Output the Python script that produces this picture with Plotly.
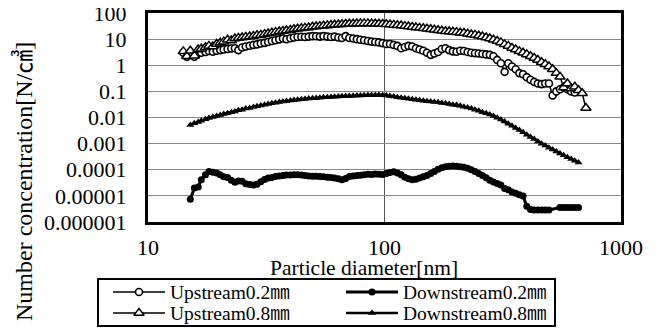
import plotly.graph_objects as go

# Particle diameters (SMPS channel midpoints, nm)
diameter = [14.1, 14.6, 15.1, 15.7, 16.3, 16.8, 17.5, 18.1, 18.8, 19.5,
            20.2, 20.9, 21.7, 22.5, 23.3, 24.1, 25.0, 25.9, 26.9, 27.9,
            28.9, 30.0, 31.1, 32.2, 33.4, 34.6, 35.9, 37.2, 38.5, 40.0,
            41.4, 42.9, 44.5, 46.1, 47.8, 49.6, 51.4, 53.3, 55.2, 57.3,
            59.4, 61.5, 63.8, 66.1, 68.5, 71.0, 73.7, 76.4, 79.1, 82.0,
            85.1, 88.2, 91.4, 94.7, 98.2, 101.8, 105.5, 109.4, 113.4, 117.6,
            121.9, 126.3, 131.0, 135.8, 140.7, 145.9, 151.2, 156.8, 162.5, 168.5,
            174.7, 181.1, 187.7, 194.6, 201.7, 209.1, 216.7, 224.7, 232.9, 241.4,
            250.3, 259.5, 269.0, 278.8, 289.0, 299.6, 310.6, 322.0, 333.8, 346.0,
            358.7, 371.8, 385.4, 399.5, 414.2, 429.4, 445.1, 461.4, 478.3, 495.8,
            514.0, 532.8, 552.3, 572.5, 593.5, 615.3, 637.8, 661.2, 685.4, 710.5,
            736.5]

# Upstream 0.2mm (channels 0..106)
upstream_02 = [3.0, 2.1, 2.6, 2.1, 2.8, 3.0, 3.2, 3.5, 3.3, 3.6,
               3.8, 4.0, 4.2, 4.4, 4.5, 3.8, 4.8, 5.2, 5.6, 6.0,
               6.3, 6.8, 7.2, 7.8, 8.5, 9.0, 9.8, 10.5, 10.0, 10.8,
               11.5, 12.0, 12.3, 12.0, 12.5, 13.0, 12.8, 12.5, 13.0, 12.5,
               12.0, 12.5, 11.5, 11.0, 13.0, 11.0, 10.5, 10.0, 9.5, 9.0,
               8.5, 8.0, 7.8, 7.5, 7.0, 6.5, 6.5, 6.0, 5.5, 4.5,
               5.0, 5.5, 5.2, 4.5, 4.0, 3.6, 3.0, 2.5, 2.8, 3.2,
               4.2, 4.5, 3.8, 3.4, 3.3, 3.6, 3.5, 3.2, 3.0, 2.9,
               2.8, 2.7, 2.6, 2.5, 2.2, 1.6, 1.2, 0.56, 1.2, 0.9,
               0.7, 0.5, 0.45, 0.35, 0.28, 0.23, 0.2, 0.19, 0.2, 0.2,
               0.07, 0.1, 0.12, 0.14, 0.12, 0.1, 0.09]

# Downstream 0.2mm (channels 2..107)
downstream_02 = [7.4e-6, 2.0e-5, 2.2e-5, 4.1e-5, 6.5e-5, 8.5e-5, 8.0e-5, 7.5e-5,
                 6.5e-5, 5.4e-5, 5.0e-5, 4.0e-5, 3.3e-5, 3.7e-5, 3.6e-5, 2.9e-5, 2.7e-5, 2.6e-5,
                 2.8e-5, 3.5e-5, 4.2e-5, 4.8e-5, 5.1e-5, 5.5e-5, 5.8e-5, 6.0e-5, 6.3e-5, 6.3e-5,
                 6.5e-5, 6.4e-5, 6.3e-5, 6.0e-5, 5.8e-5, 5.7e-5, 5.6e-5, 5.5e-5, 5.4e-5, 5.2e-5,
                 5.1e-5, 4.8e-5, 4.5e-5, 4.1e-5, 4.6e-5, 5.5e-5, 5.8e-5, 6.0e-5, 6.2e-5, 6.5e-5,
                 6.8e-5, 6.6e-5, 6.9e-5, 6.7e-5, 6.6e-5, 7.2e-5, 7.8e-5, 8.3e-5, 7.5e-5, 6.5e-5,
                 5.2e-5, 4.5e-5, 4.1e-5, 4.3e-5, 4.8e-5, 5.4e-5, 6.0e-5, 7.2e-5, 8.5e-5, 1.05e-4,
                 1.2e-4, 1.3e-4, 1.35e-4, 1.4e-4, 1.35e-4, 1.3e-4, 1.25e-4, 1.15e-4, 1.0e-4, 8.5e-5,
                 7.2e-5, 6.0e-5, 4.9e-5, 4.0e-5, 3.4e-5, 3.0e-5, 2.6e-5, 1.9e-5, 1.7e-5, 1.4e-5,
                 1.27e-5, 1.1e-5, 1.0e-5, 4.0e-6, 3.0e-6, 2.9e-6, 2.9e-6, 2.9e-6, 2.9e-6, 2.9e-6,
                 None, None, 3.6e-6, 3.6e-6, 3.6e-6, 3.6e-6, 3.6e-6, 3.6e-6]

# Upstream 0.8mm (channels 0..109)
upstream_08 = [3.4, 2.2, 3.6, 2.3, 4.0, 4.3, 4.9, 5.5, 5.2, 6.5,
               7.2, 8.0, 9.5, 8.8, 10.5, 11.0, 11.5, 12.0, 12.5, 13.2,
               14.0, 14.5, 15.5, 16.5, 17.5, 18.5, 19.5, 20.5, 21.5, 22.5,
               24.0, 25.0, 26.0, 27.0, 28.0, 29.5, 30.5, 31.5, 32.5, 33.5,
               34.5, 35.5, 36.5, 37.0, 38.0, 38.5, 39.0, 39.5, 40.0, 40.0,
               40.0, 39.5, 39.0, 38.5, 38.0, 37.0, 36.0, 35.0, 34.0, 33.0,
               31.5, 30.5, 29.0, 28.0, 27.0, 26.0, 25.0, 24.0, 23.0, 22.0,
               21.0, 20.0, 19.5, 19.0, 18.5, 17.5, 17.0, 16.0, 15.0, 14.5,
               13.5, 12.5, 11.5, 10.5, 9.5, 8.5, 7.5, 6.3, 5.5, 4.6,
               4.0, 3.4, 3.0, 2.6, 2.2, 1.9, 1.6, 1.3, 1.1, 0.9,
               0.7, 0.5, 0.36, 0.14, 0.2, 0.13, 0.15, 0.11, 0.085, 0.023]

# Downstream 0.8mm (channels 2..107)
downstream_08 = [0.0052, 0.006, 0.0068, 0.0075, 0.0085, 0.0095, 0.0105, 0.0115,
                 0.0125, 0.0135, 0.0145, 0.016, 0.017, 0.019, 0.02, 0.022, 0.023, 0.025,
                 0.027, 0.029, 0.031, 0.033, 0.035, 0.037, 0.039, 0.041, 0.043, 0.045,
                 0.047, 0.048, 0.05, 0.051, 0.053, 0.054, 0.056, 0.057, 0.059, 0.06,
                 0.061, 0.062, 0.064, 0.065, 0.066, 0.067, 0.068, 0.069, 0.07, 0.071,
                 0.072, 0.072, 0.072, 0.072, 0.071, 0.07, 0.067, 0.063, 0.06, 0.057,
                 0.055, 0.052, 0.05, 0.048, 0.046, 0.044, 0.042, 0.041, 0.039, 0.038,
                 0.036, 0.035, 0.033, 0.031, 0.03, 0.028, 0.026, 0.024, 0.022, 0.02,
                 0.018, 0.016, 0.0145, 0.013, 0.0115, 0.0098, 0.0083, 0.007, 0.0058, 0.0048,
                 0.004, 0.0033, 0.0027, 0.0022, 0.0018, 0.0015, 0.0012, 0.001, 0.00085, 0.0007,
                 0.0006, 0.0005, 0.00042, 0.00036, 0.0003, 0.00026, 0.00022, 0.00019]

series_names = ["Upstream0.2㎜", "Downstream0.2㎜", "Upstream0.8㎜", "Downstream0.8㎜"]

y_tickvals = [1e2, 1e1, 1, 1e-1, 1e-2, 1e-3, 1e-4, 1e-5, 1e-6]
y_ticktext = ["100", "10", "1", "0.1", "0.01", "0.001", "0.0001", "0.00001", "0.000001"]
x_tickvals = [10, 100, 1000]
x_ticktext = ["10", "100", "1000"]

FONT = "'Times New Roman', 'Liberation Serif', 'Noto Sans CJK JP', serif"
# The page body has a default 8px margin; the figure is sized to fill the
# remaining window and all layout pixel positions are given in window pixels.
OFF = 8
W, H = 659 - OFF, 329 - OFF


def px(x):
    return (x - OFF) / W


def py(y):
    return 1 - (y - OFF) / H


# plot area in window pixels
PL, PR, PT, PB = 148, 621, 13, 222
# legend box in window pixels
LL, LR, LT, LB = 98, 555, 279, 326

styles = [
    dict(line=dict(color="black", width=1.5),
         marker=dict(symbol="circle", size=7, color="white", line=dict(color="black", width=1.6))),
    dict(line=dict(color="black", width=3),
         marker=dict(symbol="circle", size=7, color="black", line=dict(color="black", width=0))),
    dict(line=dict(color="black", width=1.5),
         marker=dict(symbol="triangle-up", size=9, color="white", line=dict(color="black", width=1.5))),
    dict(line=dict(color="black", width=2.5),
         marker=dict(symbol="triangle-up", size=7, color="black", line=dict(color="black", width=0))),
]
xs = [diameter[0:len(upstream_02)], diameter[2:2 + len(downstream_02)],
      diameter[0:len(upstream_08)], diameter[2:2 + len(downstream_08)]]
ys = [upstream_02, downstream_02, upstream_08, downstream_08]

fig = go.Figure()
for name, x, y, st in zip(series_names, xs, ys, styles):
    fig.add_trace(go.Scatter(x=x, y=y, name=name, mode="lines+markers",
                             connectgaps=True, line=st["line"], marker=st["marker"],
                             xaxis="x", yaxis="y", showlegend=False))

# Legend (drawn on an auxiliary axis pair whose units are window pixels)
leg_line_x0 = [113, 346]
leg_line_x1 = [165, 398]
leg_text_x = [168, 401]
leg_row_y = [292, 313]
annotations = []
for i, (name, st) in enumerate(zip(series_names, styles)):
    col, row = i % 2, i // 2
    x0, x1 = leg_line_x0[col], leg_line_x1[col]
    yy = leg_row_y[row]
    fig.add_trace(go.Scatter(x=[x0, x1], y=[yy, yy], mode="lines", line=st["line"],
                             xaxis="x2", yaxis="y2", showlegend=False, hoverinfo="skip"))
    fig.add_trace(go.Scatter(x=[(x0 + x1) / 2], y=[yy], mode="markers", marker=st["marker"],
                             xaxis="x2", yaxis="y2", showlegend=False, hoverinfo="skip"))
    annotations.append(dict(text=name, xref="x2", yref="y2", x=leg_text_x[col], y=yy,
                            xanchor="left", yanchor="middle", showarrow=False,
                            font=dict(family=FONT, size=19.5, color="black")))

annotations += [
    dict(text="Particle diameter[nm]", xref="paper", yref="paper",
         x=px(364), y=py(268), xanchor="center", yanchor="middle",
         showarrow=False, font=dict(family=FONT, size=21.5, color="black")),
    dict(text="Number concentration[N/㎤]", xref="paper", yref="paper",
         x=px(24), y=py(182), xanchor="center", yanchor="middle",
         textangle=-90, showarrow=False, font=dict(family=FONT, size=24, color="black")),
]

fig.update_layout(
    template="none",
    width=W, height=H,
    margin=dict(l=0, r=0, t=0, b=0, pad=0, autoexpand=False),
    paper_bgcolor="white", plot_bgcolor="white",
    font=dict(family=FONT, size=22, color="black"),
    showlegend=False,
    annotations=annotations,
    shapes=[dict(type="rect", xref="paper", yref="paper",
                 x0=px(LL), x1=px(LR), y0=py(LB), y1=py(LT),
                 line=dict(color="black", width=2), fillcolor="rgba(0,0,0,0)", layer="below")],
    xaxis=dict(
        domain=[px(PL), px(PR)], anchor="y", automargin=False,
        type="log", range=[1, 3],
        tickvals=x_tickvals, ticktext=x_ticktext,
        showgrid=True, gridcolor="#555555", gridwidth=1,
        showline=True, linecolor="black", linewidth=3, mirror=True,
        ticks="", ticklabelstandoff=4, zeroline=False, ticklabeloverflow="allow",
        tickfont=dict(family=FONT, size=22, color="black"),
    ),
    yaxis=dict(
        domain=[py(PB), py(PT)], anchor="x", automargin=False,
        type="log", range=[-6, 2],
        tickvals=y_tickvals, ticktext=y_ticktext,
        showgrid=True, gridcolor="#888888", gridwidth=1,
        showline=True, linecolor="black", linewidth=3, mirror=True,
        ticks="", ticklabelstandoff=14, zeroline=False, ticklabeloverflow="allow",
        tickfont=dict(family=FONT, size=22, color="black"),
    ),
    xaxis2=dict(domain=[px(LL), px(LR)], anchor="y2", range=[LL, LR],
                visible=False, fixedrange=True, automargin=False),
    yaxis2=dict(domain=[py(LB), py(LT)], anchor="x2", range=[LB, LT],
                visible=False, fixedrange=True, automargin=False),
)

fig.write_html("out.html")
